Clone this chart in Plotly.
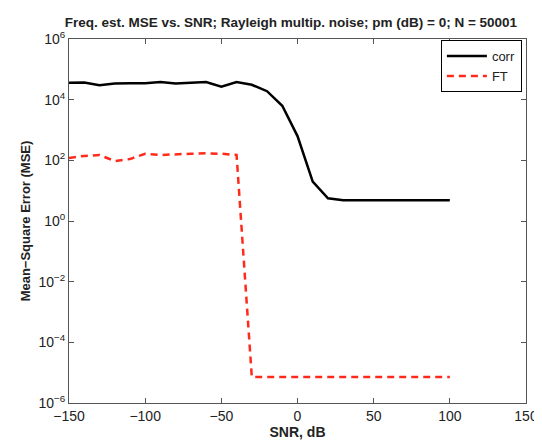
import plotly.graph_objects as go

snr = [-150, -140, -130, -120, -110, -100, -90, -80, -70, -60, -50, -40, -30,
       -20, -10, 0, 10, 20, 30, 40, 50, 60, 70, 80, 90, 100]
mse_corr = [3.6e4, 3.7e4, 3.0e4, 3.4e4, 3.5e4, 3.5e4, 3.8e4, 3.4e4, 3.6e4, 3.8e4,
            2.7e4, 3.8e4, 3.1e4, 1.9e4, 6.3e3, 6.3e2, 20, 5.6, 4.8, 4.8,
            4.8, 4.8, 4.8, 4.8, 4.8, 4.8]
mse_ft = [120, 140, 150, 95, 110, 165, 150, 160, 165, 170, 165, 150, 7.2e-6,
          7.2e-6, 7.2e-6, 7.2e-6, 7.2e-6, 7.2e-6, 7.2e-6, 7.2e-6, 7.2e-6, 7.2e-6,
          7.2e-6, 7.2e-6, 7.2e-6, 7.2e-6]

x_ticks = [-150, -100, -50, 0, 50, 100, 150]
y_exps = [-6, -4, -2, 0, 2, 4, 6]
y_tickvals = [10.0 ** e for e in y_exps]
y_ticktext = ["10<sup>%s</sup>" % ("−%d" % -e if e < 0 else "%d" % e) for e in y_exps]

font = "Liberation Sans, Arial, sans-serif"

fig = go.Figure()
fig.add_trace(go.Scatter(x=snr, y=mse_corr, mode="lines", name="corr",
                         line=dict(color="black", width=2.5)))
fig.add_trace(go.Scatter(x=snr, y=mse_ft, mode="lines", name="FT",
                         line=dict(color="#ff2a1a", width=2.5, dash="7px,5px")))

fig.update_layout(
    width=542, height=440,
    margin=dict(l=61, r=12, t=31, b=43),
    paper_bgcolor="white", plot_bgcolor="white",
    font=dict(family=font, size=14, color="#222"),
    title=dict(text="<b>Freq. est. MSE vs. SNR; Rayleigh multip. noise; pm (dB) = 0; N = 50001</b>",
               x=0.522, xanchor="center", y=0.968, yanchor="middle",
               font=dict(size=13.5)),
    legend=dict(x=0.991, y=0.997, xanchor="right", yanchor="top",
                bordercolor="black", borderwidth=1, bgcolor="white",
                font=dict(size=13), tracegroupgap=0, itemwidth=40),
    showlegend=True,
)
fig.update_xaxes(range=[-150, 150], tickvals=x_ticks,
                 ticks="inside", ticklen=5, tickcolor="#555",
                 tickfont=dict(size=14),
                 showline=True, linecolor="#555", linewidth=1, mirror="ticks",
                 showgrid=False, zeroline=False,
                 title=dict(text="<b>SNR, dB</b>", standoff=2, font=dict(size=14)))
fig.update_yaxes(type="log", range=[-6, 6], tickvals=y_tickvals, ticktext=y_ticktext,
                 ticks="inside", ticklen=5, tickcolor="#555",
                 tickfont=dict(size=14),
                 showline=True, linecolor="#555", linewidth=1, mirror="ticks",
                 showgrid=False, zeroline=False,
                 title=dict(text="<b>Mean−Square Error (MSE)</b>", standoff=4, font=dict(size=13)))

fig.write_html("out.html")
